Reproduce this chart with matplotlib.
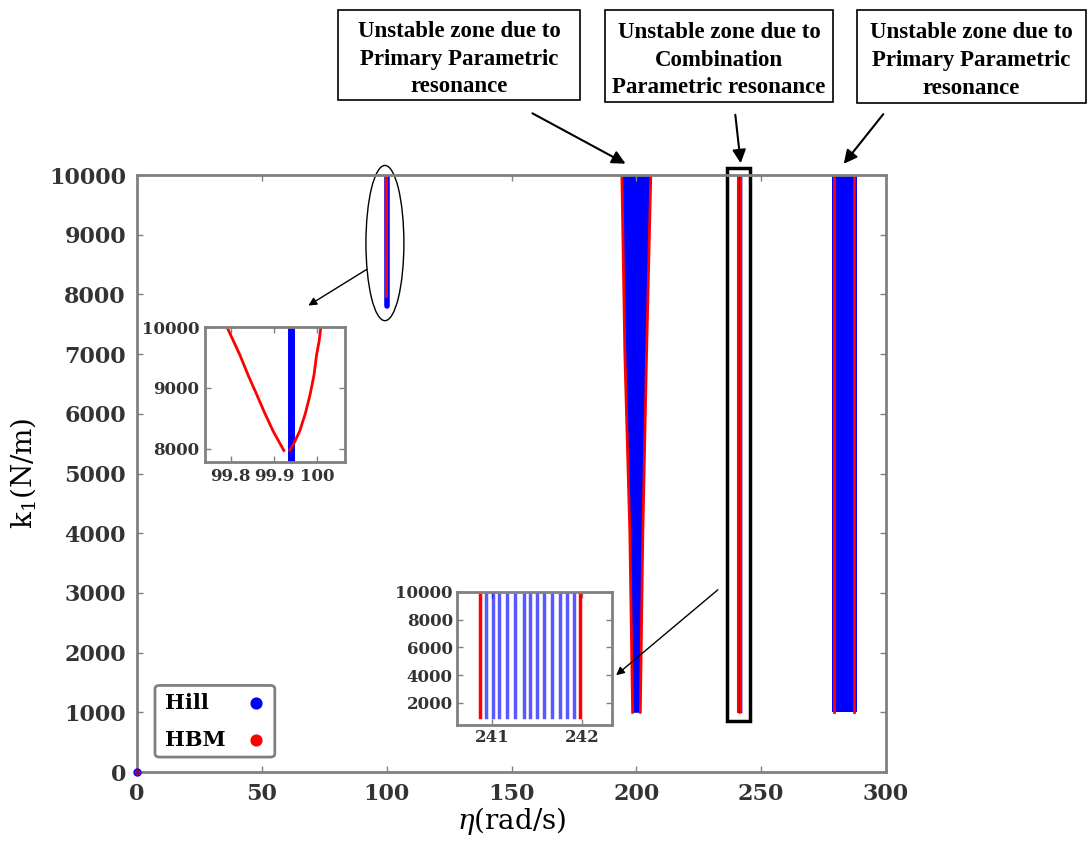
import matplotlib
matplotlib.use("Agg")
import matplotlib.pyplot as plt
import numpy as np
from matplotlib.patches import Ellipse, Rectangle, FancyBboxPatch, FancyArrowPatch

# zone near 100 rad/s (primary parametric)
hill_100_eta = 99.94
hill_100_k = [7800, 10000]
hbm_100_left_eta = [99.791, 99.806, 99.821, 99.840, 99.860, 99.879, 99.898, 99.912, 99.923]
hbm_100_left_k = [10000, 9770, 9540, 9210, 8890, 8580, 8290, 8110, 7970]
hbm_100_right_eta = [99.937, 99.948, 99.960, 99.973, 99.984, 99.993, 99.999, 100.005, 100.009]
hbm_100_right_k = [7970, 8110, 8290, 8580, 8890, 9210, 9540, 9770, 10000]

# zone near 200 rad/s (primary parametric, wedge)
z200_k = [1000, 4000, 7000, 10000]
z200_left = [198.5, 197.4, 195.4, 194.2]
z200_right = [201.6, 202.6, 204.1, 205.8]

# zone near 241.5 rad/s (combination parametric)
z241_k = [1000, 10000]
hill_241_eta = [240.933, 241.015, 241.074, 241.163, 241.252, 241.348, 241.422,
                241.503, 241.578, 241.667, 241.748, 241.830, 241.903]
hbm_241_eta = [240.86, 241.98]

# zone near 283 rad/s (primary parametric)
z283_k = [1000, 10000]
hill_283 = [278.4, 288.4]
hbm_283 = [279.2, 287.2]

legend_labels = ["Hill", "HBM"]
legend_colors = ["blue", "red"]
box_texts = ["Unstable zone due to\nPrimary Parametric\nresonance",
             "Unstable zone due to\nCombination\nParametric resonance",
             "Unstable zone due to\nPrimary Parametric\nresonance"]

W, H = 1088, 847
plt.rcParams['mathtext.fontset'] = 'dejavuserif'
fig = plt.figure(figsize=(W / 100, H / 100), dpi=100)

GRAY = '#808080'
TXT = '#333333'


def px_axes(l, t, r, b):
    return fig.add_axes([l / W, 1 - b / H, (r - l) / W, (b - t) / H])


def style(ax, size, pad=6):
    for s in ax.spines.values():
        s.set_color(GRAY)
        s.set_linewidth(2)
    ax.tick_params(direction='in', top=True, right=True, color=GRAY,
                   length=4, width=1, labelsize=size, labelcolor=TXT, pad=pad)
    for lab in ax.get_xticklabels() + ax.get_yticklabels():
        lab.set_fontfamily('DejaVu Serif')
        lab.set_fontweight('bold')


# main axes
ax = px_axes(137, 175, 886, 772)
ax.plot([hill_100_eta] * 2, hill_100_k, color='blue', lw=4, solid_capstyle='round')
ax.plot(hbm_100_left_eta, hbm_100_left_k, color='red', lw=2)
ax.plot(hbm_100_right_eta, hbm_100_right_k, color='red', lw=2)
ax.fill_betweenx(z200_k, z200_left, z200_right, color='blue', lw=0)
ax.plot(z200_left, z200_k, color='red', lw=2)
ax.plot(z200_right, z200_k, color='red', lw=2)
ax.fill_betweenx(z283_k, hill_283[0], hill_283[1], color='blue', lw=0)
for e in hbm_283:
    ax.plot([e, e], z283_k, color='red', lw=2)
for e in hill_241_eta:
    ax.plot([e, e], z241_k, color='blue', lw=1, alpha=0.6)
for e in hbm_241_eta:
    ax.plot([e, e], z241_k, color='red', lw=1.5)
ax.scatter([0], [0], s=25, color='blue', clip_on=False, zorder=5)
ax.scatter([0], [0], s=12, color='red', alpha=0.5, clip_on=False, zorder=6)
ax.set_xlim(0, 300)
ax.set_ylim(0, 10000)
ax.set_xticks(np.arange(0, 301, 50))
ax.set_yticks(np.arange(0, 10001, 1000))
style(ax, 16, pad=8)
ax.set_xlabel(r'$\eta$(rad/s)', fontsize=20, family='DejaVu Serif', labelpad=0)
ax.set_ylabel(r'k$_1$(N/m)', fontsize=20, family='DejaVu Serif', labelpad=8)

ax.add_patch(Ellipse((99.3, 8860), 15.2, 2600, fill=False, ec='black',
                     lw=1, clip_on=False))
ax.add_patch(Rectangle((236.5, 846), 9.2, 10109 - 846, fill=False, ec='black',
                       lw=2.5, clip_on=False))

# legend box drawn by hand: text left, marker right
ax.add_patch(FancyBboxPatch((0.024, 0.025), 0.160, 0.12, transform=ax.transAxes,
                            boxstyle='round,pad=0,rounding_size=0.006',
                            fc='white', ec=GRAY, lw=2, zorder=8))
for i, (lab, c) in enumerate(zip(legend_labels, legend_colors)):
    yy = 0.115 - i * 0.062
    ax.text(0.037, yy, lab, transform=ax.transAxes, ha='left', va='center',
            fontsize=15, family='DejaVu Serif', weight='bold', zorder=9)
    ax.scatter([0.159], [yy], s=60, color=c, transform=ax.transAxes, zorder=9,
               clip_on=False)

# inset near 100
ax1 = px_axes(205, 327, 345, 462)
ax1.plot([hill_100_eta] * 2, hill_100_k, color='blue', lw=5)
ax1.plot(hbm_100_left_eta, hbm_100_left_k, color='red', lw=2)
ax1.plot(hbm_100_right_eta, hbm_100_right_k, color='red', lw=2)
ax1.set_xlim(99.74, 100.065)
ax1.set_ylim(7780, 10000)
ax1.set_xticks([99.8, 99.9, 100])
ax1.set_xticklabels(['99.8', '99.9', '100'])
ax1.set_yticks([8000, 9000, 10000])
style(ax1, 12, pad=4)

# inset near 241.5
ax2 = px_axes(457, 592, 612, 725)
for e in hill_241_eta:
    ax2.plot([e, e], z241_k, color='blue', lw=2.5, alpha=0.65)
for e in hbm_241_eta:
    ax2.plot([e, e], z241_k, color='red', lw=2.5)
ax2.set_xlim(240.61, 242.33)
ax2.set_ylim(400, 10000)
ax2.set_xticks([241, 242])
ax2.set_yticks([2000, 4000, 6000, 8000, 10000])
style(ax2, 12, pad=3)


def fpos(x, y):
    return (x / W, 1 - y / H)


def arrow(x0, y0, x1, y1, ms=12, lw=1):
    fig.add_artist(FancyArrowPatch(
        fpos(x0, y0), fpos(x1, y1), transform=fig.transFigure,
        arrowstyle='-|>', mutation_scale=ms, lw=lw, color='black'))


arrow(369, 268, 306, 307)
arrow(720, 588, 614, 677)

# annotation boxes
boxes = [(338, 10, 580, 100), (605, 10, 833, 102), (857, 10, 1086, 103)]
for (l, t, r, b), txt in zip(boxes, box_texts):
    fig.add_artist(Rectangle(fpos(l, b), (r - l) / W, (b - t) / H,
                             transform=fig.transFigure, fill=False,
                             ec='black', lw=1.2))
    cx, cy = fpos((l + r) / 2, (t + b) / 2 + 4)
    fig.text(cx, cy, txt, ha='center', va='center', fontsize=16.5,
             family='Liberation Serif', weight='bold', linespacing=1.42)

arrow(530, 112, 628, 165, ms=20, lw=1.5)
arrow(735, 112, 741, 166, ms=20, lw=1.5)
arrow(885, 112, 842, 166, ms=20, lw=1.5)

fig.savefig('out.png', dpi=100)
